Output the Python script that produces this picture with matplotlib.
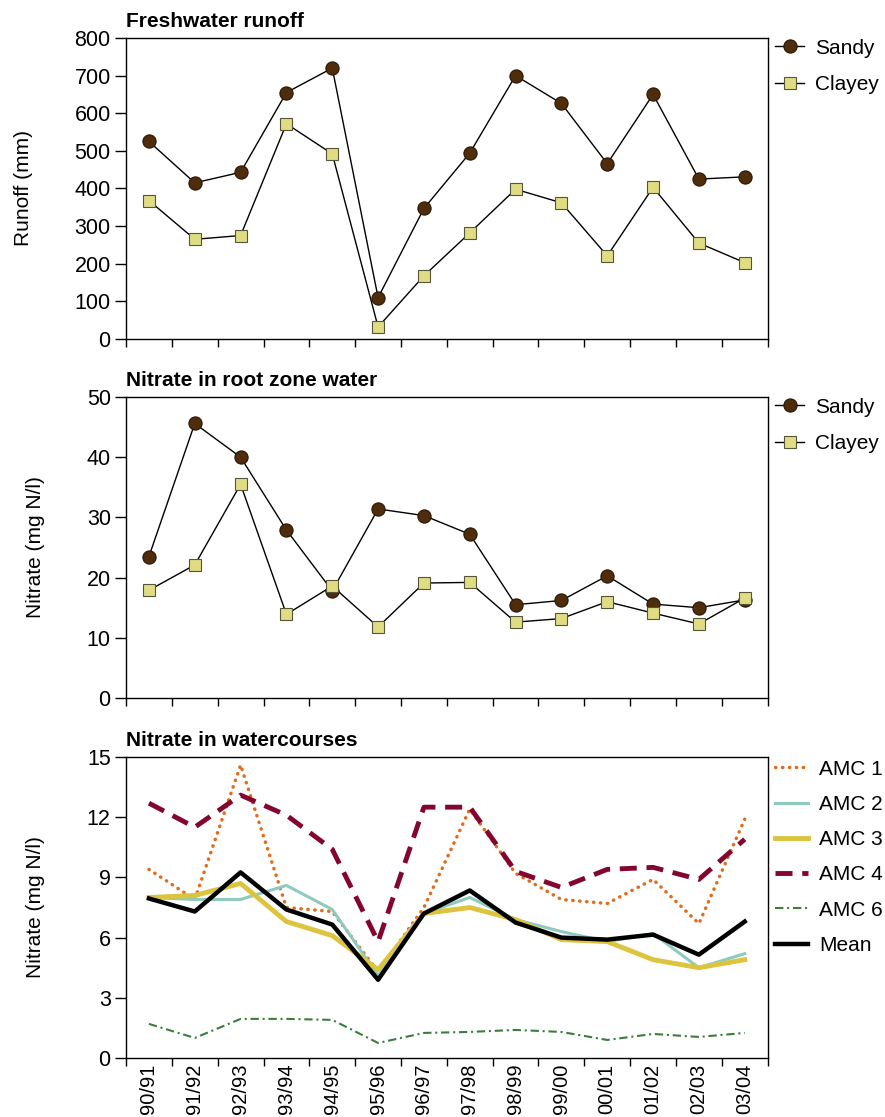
import numpy as np
import matplotlib
matplotlib.use("Agg")
import matplotlib.pyplot as plt

plt.rcParams["font.family"] = ["Liberation Sans", "DejaVu Sans"]

# Datos

seasons = ["90/91", "91/92", "92/93", "93/94", "94/95", "95/96", "96/97",
           "97/98", "98/99", "99/00", "00/01", "01/02", "02/03", "03/04"]

runoff_sandy = [525, 415, 443, 655, 720, 110, 347, 494, 700, 626, 466, 650, 425, 431]
runoff_clayey = [368, 265, 275, 572, 492, 32, 168, 282, 398, 362, 221, 403, 255, 203]

root_sandy = [23.5, 45.6, 40.0, 27.9, 17.8, 31.4, 30.3, 27.2, 15.5, 16.2, 20.3, 15.6, 15.0, 16.3]
root_clayey = [17.9, 22.1, 35.5, 13.9, 18.6, 11.8, 19.1, 19.2, 12.6, 13.2, 16.0, 14.1, 12.3, 16.6]

amc1 = [9.4, 7.9, 14.6, 7.5, 7.3, 4.3, 7.5, 12.4, 9.2, 7.9, 7.7, 8.9, 6.7, 11.9]
amc2 = [8.0, 7.9, 7.9, 8.6, 7.4, 4.1, 7.2, 8.0, 6.9, 6.3, 5.8, 6.2, 4.5, 5.2]
amc3 = [8.0, 8.1, 8.7, 6.8, 6.1, 4.4, 7.2, 7.5, 6.9, 5.9, 5.8, 4.9, 4.5, 4.9]
amc4 = [12.7, 11.5, 13.1, 12.1, 10.4, 5.8, 12.5, 12.5, 9.3, 8.5, 9.4, 9.5, 8.9, 10.9]
amc6 = [1.7, 1.0, 1.95, 1.95, 1.9, 0.75, 1.25, 1.3, 1.4, 1.3, 0.9, 1.2, 1.05, 1.25]
mean = [7.95, 7.3, 9.25, 7.4, 6.65, 3.9, 7.2, 8.35, 6.75, 6.0, 5.9, 6.15, 5.15, 6.8]

x = np.arange(len(seasons))

fig = plt.figure(figsize=(8.85, 11.17), dpi=100)
left, width = 0.1424, 0.7250
ax1 = fig.add_axes([left, 0.6965, width, 0.2695])
ax2 = fig.add_axes([left, 0.3751, width, 0.2695])
ax3 = fig.add_axes([left, 0.0528, width, 0.2695])

FS = 15.5


def estilo(ax, titulo, ylabel, ymax, paso, etiquetas=False):
    ax.set_xlim(-0.5, len(seasons) - 0.5)
    ax.set_ylim(0, ymax)
    ax.set_yticks(np.arange(0, ymax + paso / 2, paso))
    ax.set_xticks(np.arange(-0.5, len(seasons), 1.0))
    ax.set_xticklabels([])
    ax.set_xticks(x, minor=True)
    if etiquetas:
        ax.set_xticklabels(seasons, minor=True, rotation=90, fontsize=14.5)
    ax.tick_params(axis="x", which="major", length=6, width=1, direction="out")
    ax.tick_params(axis="x", which="minor", length=0, pad=4)
    ax.tick_params(axis="y", length=8, width=1, direction="out", labelsize=FS, pad=3)
    for s in ax.spines.values():
        s.set_linewidth(1.0)
    ax.set_title(titulo, loc="left", fontsize=15, fontweight="bold", pad=8)
    ax.set_ylabel(ylabel, fontsize=15, labelpad=30)


def leyenda(ax, dy, hl, ls):
    ax.legend(loc="upper left", bbox_to_anchor=(1.005, 1.0 + dy), frameon=False, fontsize=15,
              handlelength=hl, handletextpad=0.5, labelspacing=ls,
              borderaxespad=0.0, borderpad=0.2)


# Panel 1: escorrentia
ax1.plot(x, runoff_sandy, color="black", lw=1, marker="o", ms=9.5,
         mfc="#4f2d0c", mec="#2a1604", mew=0.8, label="Sandy")
ax1.plot(x, runoff_clayey, color="black", lw=1, marker="s", ms=8.5,
         mfc="#e0dc84", mec="#55553a", mew=0.8, label="Clayey")
estilo(ax1, "Freshwater runoff", "Runoff (mm)", 800, 100)
leyenda(ax1, 0.012, 1.4, 0.83)

# Panel 2: zona radicular
ax2.plot(x, root_sandy, color="black", lw=1, marker="o", ms=9.5,
         mfc="#4f2d0c", mec="#2a1604", mew=0.8, label="Sandy")
ax2.plot(x, root_clayey, color="black", lw=1, marker="s", ms=8.5,
         mfc="#e0dc84", mec="#55553a", mew=0.8, label="Clayey")
estilo(ax2, "Nitrate in root zone water", "Nitrate (mg N/l)", 50, 10)
leyenda(ax2, 0.012, 1.4, 0.83)

# Panel 3: cursos de agua
ax3.plot(x, amc1, color="#e06c1e", lw=2.5, linestyle=(0, (0.1, 1.9)),
         dash_capstyle="round", label="AMC 1")
ax3.plot(x, amc2, color="#8ecabd", lw=2.2, label="AMC 2")
ax3.plot(x, amc3, color="#dcc43e", lw=3.5, label="AMC 3")
ax3.plot(x, amc4, color="#84062f", lw=3.5, linestyle=(0, (3.5, 2.0)), label="AMC 4")
ax3.plot(x, amc6, color="#3c7c3e", lw=1.5, linestyle=(0, (4, 1.8, 1, 1.8)), label="AMC 6")
ax3.plot(x, mean, color="black", lw=3.2, label="Mean")
estilo(ax3, "Nitrate in watercourses", "Nitrate (mg N/l)", 15, 3, etiquetas=True)
leyenda(ax3, 0.005, 1.6, 0.78)

fig.savefig("out.png", dpi=100)
